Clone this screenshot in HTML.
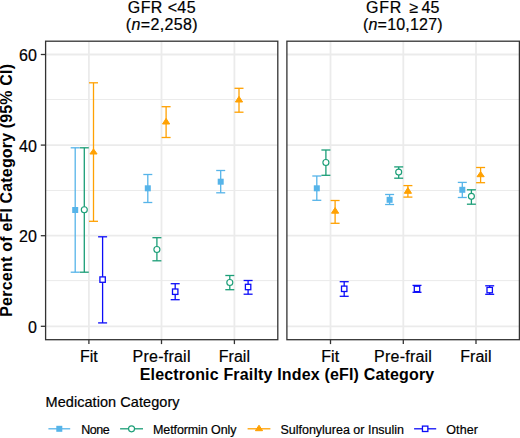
<!DOCTYPE html><html><head><meta charset="utf-8"><style>html,body{margin:0;padding:0;background:#fff;width:520px;height:438px;overflow:hidden;position:relative}text{font-family:"Liberation Sans",sans-serif}</style></head><body><svg width="520" height="438" viewBox="0 0 520 438" style="position:absolute;left:0;top:0">
<rect width="520" height="438" fill="#fff"/>
<line x1="45.6" x2="277.8" y1="99.5" y2="99.5" stroke="#EBEBEB" stroke-width="1"/>
<line x1="45.6" x2="277.8" y1="190.5" y2="190.5" stroke="#EBEBEB" stroke-width="1"/>
<line x1="45.6" x2="277.8" y1="280.6" y2="280.6" stroke="#EBEBEB" stroke-width="1"/>
<line x1="45.6" x2="277.8" y1="326.30" y2="326.30" stroke="#EBEBEB" stroke-width="1.8"/>
<line x1="45.6" x2="277.8" y1="235.70" y2="235.70" stroke="#EBEBEB" stroke-width="1.8"/>
<line x1="45.6" x2="277.8" y1="145.10" y2="145.10" stroke="#EBEBEB" stroke-width="1.8"/>
<line x1="45.6" x2="277.8" y1="54.50" y2="54.50" stroke="#EBEBEB" stroke-width="1.8"/>
<line x1="88.9" x2="88.9" y1="41.2" y2="339.7" stroke="#EBEBEB" stroke-width="1.8"/>
<line x1="161.5" x2="161.5" y1="41.2" y2="339.7" stroke="#EBEBEB" stroke-width="1.8"/>
<line x1="234.4" x2="234.4" y1="41.2" y2="339.7" stroke="#EBEBEB" stroke-width="1.8"/>
<line x1="75.20" y1="147.8" x2="75.20" y2="272.2" stroke="#56B4E9" stroke-width="1.3"/><line x1="70.70" y1="147.8" x2="79.70" y2="147.8" stroke="#56B4E9" stroke-width="1.3"/><line x1="70.70" y1="272.2" x2="79.70" y2="272.2" stroke="#56B4E9" stroke-width="1.3"/>
<rect x="72.20" y="207.00" width="6" height="6" fill="#56B4E9"/>
<line x1="84.30" y1="147.8" x2="84.30" y2="272.2" stroke="#1B9E77" stroke-width="1.3"/><line x1="79.80" y1="147.8" x2="88.80" y2="147.8" stroke="#1B9E77" stroke-width="1.3"/><line x1="79.80" y1="272.2" x2="88.80" y2="272.2" stroke="#1B9E77" stroke-width="1.3"/>
<circle cx="84.30" cy="209.7" r="3.0" fill="#fff" stroke="#1B9E77" stroke-width="1.15"/>
<line x1="93.50" y1="82.8" x2="93.50" y2="221.3" stroke="#FFA102" stroke-width="1.3"/><line x1="89.00" y1="82.8" x2="98.00" y2="82.8" stroke="#FFA102" stroke-width="1.3"/><line x1="89.00" y1="221.3" x2="98.00" y2="221.3" stroke="#FFA102" stroke-width="1.3"/>
<polygon points="93.50,148.90 97.10,154.00 89.90,154.00" fill="#FFA102" stroke="#FFA102" stroke-width="1.0" stroke-linejoin="round"/>
<line x1="102.60" y1="236.8" x2="102.60" y2="322.9" stroke="#0C0CF8" stroke-width="1.3"/><line x1="98.10" y1="236.8" x2="107.10" y2="236.8" stroke="#0C0CF8" stroke-width="1.3"/><line x1="98.10" y1="322.9" x2="107.10" y2="322.9" stroke="#0C0CF8" stroke-width="1.3"/>
<rect x="99.90" y="276.90" width="5.4" height="5.4" fill="#fff" stroke="#0C0CF8" stroke-width="1.3"/>
<line x1="147.80" y1="174.5" x2="147.80" y2="202.5" stroke="#56B4E9" stroke-width="1.3"/><line x1="143.30" y1="174.5" x2="152.30" y2="174.5" stroke="#56B4E9" stroke-width="1.3"/><line x1="143.30" y1="202.5" x2="152.30" y2="202.5" stroke="#56B4E9" stroke-width="1.3"/>
<rect x="144.80" y="185.30" width="6" height="6" fill="#56B4E9"/>
<line x1="156.90" y1="237.7" x2="156.90" y2="260.8" stroke="#1B9E77" stroke-width="1.3"/><line x1="152.40" y1="237.7" x2="161.40" y2="237.7" stroke="#1B9E77" stroke-width="1.3"/><line x1="152.40" y1="260.8" x2="161.40" y2="260.8" stroke="#1B9E77" stroke-width="1.3"/>
<circle cx="156.90" cy="249.5" r="3.0" fill="#fff" stroke="#1B9E77" stroke-width="1.15"/>
<line x1="166.10" y1="106.7" x2="166.10" y2="137.5" stroke="#FFA102" stroke-width="1.3"/><line x1="161.60" y1="106.7" x2="170.60" y2="106.7" stroke="#FFA102" stroke-width="1.3"/><line x1="161.60" y1="137.5" x2="170.60" y2="137.5" stroke="#FFA102" stroke-width="1.3"/>
<polygon points="166.10,118.40 169.70,124.00 162.50,124.00" fill="#FFA102" stroke="#FFA102" stroke-width="1.0" stroke-linejoin="round"/>
<line x1="175.20" y1="283.7" x2="175.20" y2="299.7" stroke="#0C0CF8" stroke-width="1.3"/><line x1="170.70" y1="283.7" x2="179.70" y2="283.7" stroke="#0C0CF8" stroke-width="1.3"/><line x1="170.70" y1="299.7" x2="179.70" y2="299.7" stroke="#0C0CF8" stroke-width="1.3"/>
<rect x="172.50" y="289.00" width="5.4" height="5.4" fill="#fff" stroke="#0C0CF8" stroke-width="1.3"/>
<line x1="220.70" y1="170.5" x2="220.70" y2="192.8" stroke="#56B4E9" stroke-width="1.3"/><line x1="216.20" y1="170.5" x2="225.20" y2="170.5" stroke="#56B4E9" stroke-width="1.3"/><line x1="216.20" y1="192.8" x2="225.20" y2="192.8" stroke="#56B4E9" stroke-width="1.3"/>
<rect x="217.70" y="178.70" width="6" height="6" fill="#56B4E9"/>
<line x1="229.80" y1="275.5" x2="229.80" y2="289.7" stroke="#1B9E77" stroke-width="1.3"/><line x1="225.30" y1="275.5" x2="234.30" y2="275.5" stroke="#1B9E77" stroke-width="1.3"/><line x1="225.30" y1="289.7" x2="234.30" y2="289.7" stroke="#1B9E77" stroke-width="1.3"/>
<circle cx="229.80" cy="282.5" r="3.0" fill="#fff" stroke="#1B9E77" stroke-width="1.15"/>
<line x1="239.00" y1="88.3" x2="239.00" y2="112.2" stroke="#FFA102" stroke-width="1.3"/><line x1="234.50" y1="88.3" x2="243.50" y2="88.3" stroke="#FFA102" stroke-width="1.3"/><line x1="234.50" y1="112.2" x2="243.50" y2="112.2" stroke="#FFA102" stroke-width="1.3"/>
<polygon points="239.00,96.40 242.60,102.00 235.40,102.00" fill="#FFA102" stroke="#FFA102" stroke-width="1.0" stroke-linejoin="round"/>
<line x1="248.10" y1="280.5" x2="248.10" y2="294.2" stroke="#0C0CF8" stroke-width="1.3"/><line x1="243.60" y1="280.5" x2="252.60" y2="280.5" stroke="#0C0CF8" stroke-width="1.3"/><line x1="243.60" y1="294.2" x2="252.60" y2="294.2" stroke="#0C0CF8" stroke-width="1.3"/>
<rect x="245.40" y="284.30" width="5.4" height="5.4" fill="#fff" stroke="#0C0CF8" stroke-width="1.3"/>
<rect x="45.6" y="41.2" width="232.20" height="298.50" fill="none" stroke="#333" stroke-width="1.3"/>
<line x1="88.9" x2="88.9" y1="339.7" y2="344.09999999999997" stroke="#333" stroke-width="1.3"/>
<line x1="161.5" x2="161.5" y1="339.7" y2="344.09999999999997" stroke="#333" stroke-width="1.3"/>
<line x1="234.4" x2="234.4" y1="339.7" y2="344.09999999999997" stroke="#333" stroke-width="1.3"/>
<line x1="286.9" x2="519.4" y1="99.5" y2="99.5" stroke="#EBEBEB" stroke-width="1"/>
<line x1="286.9" x2="519.4" y1="190.5" y2="190.5" stroke="#EBEBEB" stroke-width="1"/>
<line x1="286.9" x2="519.4" y1="280.6" y2="280.6" stroke="#EBEBEB" stroke-width="1"/>
<line x1="286.9" x2="519.4" y1="326.30" y2="326.30" stroke="#EBEBEB" stroke-width="1.8"/>
<line x1="286.9" x2="519.4" y1="235.70" y2="235.70" stroke="#EBEBEB" stroke-width="1.8"/>
<line x1="286.9" x2="519.4" y1="145.10" y2="145.10" stroke="#EBEBEB" stroke-width="1.8"/>
<line x1="286.9" x2="519.4" y1="54.50" y2="54.50" stroke="#EBEBEB" stroke-width="1.8"/>
<line x1="330.5" x2="330.5" y1="41.2" y2="339.7" stroke="#EBEBEB" stroke-width="1.8"/>
<line x1="403.3" x2="403.3" y1="41.2" y2="339.7" stroke="#EBEBEB" stroke-width="1.8"/>
<line x1="476.0" x2="476.0" y1="41.2" y2="339.7" stroke="#EBEBEB" stroke-width="1.8"/>
<line x1="316.80" y1="176" x2="316.80" y2="200.3" stroke="#56B4E9" stroke-width="1.3"/><line x1="312.30" y1="176" x2="321.30" y2="176" stroke="#56B4E9" stroke-width="1.3"/><line x1="312.30" y1="200.3" x2="321.30" y2="200.3" stroke="#56B4E9" stroke-width="1.3"/>
<rect x="313.80" y="185.30" width="6" height="6" fill="#56B4E9"/>
<line x1="325.90" y1="150" x2="325.90" y2="175.3" stroke="#1B9E77" stroke-width="1.3"/><line x1="321.40" y1="150" x2="330.40" y2="150" stroke="#1B9E77" stroke-width="1.3"/><line x1="321.40" y1="175.3" x2="330.40" y2="175.3" stroke="#1B9E77" stroke-width="1.3"/>
<circle cx="325.90" cy="162.5" r="3.0" fill="#fff" stroke="#1B9E77" stroke-width="1.15"/>
<line x1="335.10" y1="200.5" x2="335.10" y2="223.3" stroke="#FFA102" stroke-width="1.3"/><line x1="330.60" y1="200.5" x2="339.60" y2="200.5" stroke="#FFA102" stroke-width="1.3"/><line x1="330.60" y1="223.3" x2="339.60" y2="223.3" stroke="#FFA102" stroke-width="1.3"/>
<polygon points="335.10,207.60 338.70,213.20 331.50,213.20" fill="#FFA102" stroke="#FFA102" stroke-width="1.0" stroke-linejoin="round"/>
<line x1="344.20" y1="281.7" x2="344.20" y2="296.3" stroke="#0C0CF8" stroke-width="1.3"/><line x1="339.70" y1="281.7" x2="348.70" y2="281.7" stroke="#0C0CF8" stroke-width="1.3"/><line x1="339.70" y1="296.3" x2="348.70" y2="296.3" stroke="#0C0CF8" stroke-width="1.3"/>
<rect x="341.50" y="286.10" width="5.4" height="5.4" fill="#fff" stroke="#0C0CF8" stroke-width="1.3"/>
<line x1="389.60" y1="194.5" x2="389.60" y2="204.5" stroke="#56B4E9" stroke-width="1.3"/><line x1="385.10" y1="194.5" x2="394.10" y2="194.5" stroke="#56B4E9" stroke-width="1.3"/><line x1="385.10" y1="204.5" x2="394.10" y2="204.5" stroke="#56B4E9" stroke-width="1.3"/>
<rect x="386.60" y="196.80" width="6" height="6" fill="#56B4E9"/>
<line x1="398.70" y1="166.9" x2="398.70" y2="178.2" stroke="#1B9E77" stroke-width="1.3"/><line x1="394.20" y1="166.9" x2="403.20" y2="166.9" stroke="#1B9E77" stroke-width="1.3"/><line x1="394.20" y1="178.2" x2="403.20" y2="178.2" stroke="#1B9E77" stroke-width="1.3"/>
<circle cx="398.70" cy="172.1" r="3.0" fill="#fff" stroke="#1B9E77" stroke-width="1.15"/>
<line x1="407.90" y1="185.6" x2="407.90" y2="197.1" stroke="#FFA102" stroke-width="1.3"/><line x1="403.40" y1="185.6" x2="412.40" y2="185.6" stroke="#FFA102" stroke-width="1.3"/><line x1="403.40" y1="197.1" x2="412.40" y2="197.1" stroke="#FFA102" stroke-width="1.3"/>
<polygon points="407.90,187.50 411.50,193.30 404.30,193.30" fill="#FFA102" stroke="#FFA102" stroke-width="1.0" stroke-linejoin="round"/>
<line x1="417.00" y1="285.4" x2="417.00" y2="292.3" stroke="#0C0CF8" stroke-width="1.3"/><line x1="412.50" y1="285.4" x2="421.50" y2="285.4" stroke="#0C0CF8" stroke-width="1.3"/><line x1="412.50" y1="292.3" x2="421.50" y2="292.3" stroke="#0C0CF8" stroke-width="1.3"/>
<rect x="414.30" y="286.20" width="5.4" height="5.4" fill="#fff" stroke="#0C0CF8" stroke-width="1.3"/>
<line x1="462.30" y1="182.4" x2="462.30" y2="197.5" stroke="#56B4E9" stroke-width="1.3"/><line x1="457.80" y1="182.4" x2="466.80" y2="182.4" stroke="#56B4E9" stroke-width="1.3"/><line x1="457.80" y1="197.5" x2="466.80" y2="197.5" stroke="#56B4E9" stroke-width="1.3"/>
<rect x="459.30" y="186.80" width="6" height="6" fill="#56B4E9"/>
<line x1="471.40" y1="189.8" x2="471.40" y2="204.2" stroke="#1B9E77" stroke-width="1.3"/><line x1="466.90" y1="189.8" x2="475.90" y2="189.8" stroke="#1B9E77" stroke-width="1.3"/><line x1="466.90" y1="204.2" x2="475.90" y2="204.2" stroke="#1B9E77" stroke-width="1.3"/>
<circle cx="471.40" cy="196.3" r="3.0" fill="#fff" stroke="#1B9E77" stroke-width="1.15"/>
<line x1="480.60" y1="167.5" x2="480.60" y2="182.7" stroke="#FFA102" stroke-width="1.3"/><line x1="476.10" y1="167.5" x2="485.10" y2="167.5" stroke="#FFA102" stroke-width="1.3"/><line x1="476.10" y1="182.7" x2="485.10" y2="182.7" stroke="#FFA102" stroke-width="1.3"/>
<polygon points="480.60,171.60 484.20,176.70 477.00,176.70" fill="#FFA102" stroke="#FFA102" stroke-width="1.0" stroke-linejoin="round"/>
<line x1="489.70" y1="285.8" x2="489.70" y2="294.3" stroke="#0C0CF8" stroke-width="1.3"/><line x1="485.20" y1="285.8" x2="494.20" y2="285.8" stroke="#0C0CF8" stroke-width="1.3"/><line x1="485.20" y1="294.3" x2="494.20" y2="294.3" stroke="#0C0CF8" stroke-width="1.3"/>
<rect x="487.00" y="287.40" width="5.4" height="5.4" fill="#fff" stroke="#0C0CF8" stroke-width="1.3"/>
<rect x="286.9" y="41.2" width="232.50" height="298.50" fill="none" stroke="#333" stroke-width="1.3"/>
<line x1="330.5" x2="330.5" y1="339.7" y2="344.09999999999997" stroke="#333" stroke-width="1.3"/>
<line x1="403.3" x2="403.3" y1="339.7" y2="344.09999999999997" stroke="#333" stroke-width="1.3"/>
<line x1="476.0" x2="476.0" y1="339.7" y2="344.09999999999997" stroke="#333" stroke-width="1.3"/>
<line x1="40.8" x2="45.6" y1="326.30" y2="326.30" stroke="#333" stroke-width="1.3"/>
<line x1="40.8" x2="45.6" y1="235.70" y2="235.70" stroke="#333" stroke-width="1.3"/>
<line x1="40.8" x2="45.6" y1="145.10" y2="145.10" stroke="#333" stroke-width="1.3"/>
<line x1="40.8" x2="45.6" y1="54.50" y2="54.50" stroke="#333" stroke-width="1.3"/>
<text id="s1a" font-size="16" text-anchor="middle" fill="#000" stroke="#000" stroke-width="0.2" textLength="67.7" lengthAdjust="spacing" x="161.7" y="12.5">GFR &lt;45</text>
<text id="s1b" font-size="16" text-anchor="middle" fill="#000" stroke="#000" stroke-width="0.2" textLength="71.8" lengthAdjust="spacing" x="161.7" y="29.8">(<tspan font-style="italic">n</tspan>=2,258)</text>
<text id="s2a" font-size="16" text-anchor="start" fill="#000" stroke="#000" stroke-width="0.2" textLength="35.4" lengthAdjust="spacing" x="366.0" y="12.5">GFR</text>
<text id="s2c" font-size="16" text-anchor="start" fill="#000" stroke="#000" stroke-width="0.2" x="409.5" y="12.5">≥</text>
<text id="s2d" font-size="16" text-anchor="start" fill="#000" stroke="#000" stroke-width="0.2" x="421.5" y="12.5">45</text>
<text id="s2b" font-size="16" text-anchor="middle" fill="#000" stroke="#000" stroke-width="0.2" textLength="79.6" lengthAdjust="spacing" x="402.8" y="29.8">(<tspan font-style="italic">n</tspan>=10,127)</text>
<text id="y0" font-size="16" text-anchor="end" fill="#000" stroke="#000" stroke-width="0.2" x="36.8" y="332.7">0</text>
<text id="y20" font-size="16" text-anchor="end" fill="#000" stroke="#000" stroke-width="0.2" x="36.8" y="242.1">20</text>
<text id="y40" font-size="16" text-anchor="end" fill="#000" stroke="#000" stroke-width="0.2" x="36.8" y="151.5">40</text>
<text id="y60" font-size="16" text-anchor="end" fill="#000" stroke="#000" stroke-width="0.2" x="36.8" y="60.9">60</text>
<text id="xl1" font-size="16" text-anchor="middle" fill="#000" stroke="#000" stroke-width="0.2" x="88.9" y="361.8">Fit</text>
<text id="xl2" font-size="16" text-anchor="middle" fill="#000" stroke="#000" stroke-width="0.2" textLength="57.9" lengthAdjust="spacing" x="161.5" y="361.8">Pre-frail</text>
<text id="xl3" font-size="16" text-anchor="middle" fill="#000" stroke="#000" stroke-width="0.2" x="234.4" y="361.8">Frail</text>
<text id="xr1" font-size="16" text-anchor="middle" fill="#000" stroke="#000" stroke-width="0.2" x="330.2" y="361.8">Fit</text>
<text id="xr2" font-size="16" text-anchor="middle" fill="#000" stroke="#000" stroke-width="0.2" textLength="57.8" lengthAdjust="spacing" x="403.0" y="361.8">Pre-frail</text>
<text id="xr3" font-size="16" text-anchor="middle" fill="#000" stroke="#000" stroke-width="0.2" x="475.9" y="361.8">Frail</text>
<text id="xt" font-size="16" text-anchor="middle" fill="#000" font-weight="bold" textLength="294.5" lengthAdjust="spacing" x="287.0" y="379.9">Electronic Frailty Index (eFI) Category</text>
<text id="lt" font-size="14.5" text-anchor="start" fill="#000" stroke="#000" stroke-width="0.2" textLength="134.1" lengthAdjust="spacing" x="45.5" y="406.8">Medication Category</text>
<text id="l1" font-size="12.5" text-anchor="start" fill="#000" stroke="#000" stroke-width="0.2" textLength="28.6" lengthAdjust="spacing" x="81.2" y="433.8">None</text>
<text id="l2" font-size="12.5" text-anchor="start" fill="#000" stroke="#000" stroke-width="0.2" textLength="83.4" lengthAdjust="spacing" x="153.0" y="433.8">Metformin Only</text>
<text id="l3" font-size="12.5" text-anchor="start" fill="#000" stroke="#000" stroke-width="0.2" x="280.4" y="433.8">Sulfonylurea or Insulin</text>
<text id="l4" font-size="12.5" text-anchor="start" fill="#000" stroke="#000" stroke-width="0.2" textLength="31.8" lengthAdjust="spacing" x="446.2" y="433.8">Other</text>
<text id="yt1" font-size="16" text-anchor="start" fill="#000" font-weight="bold" textLength="108.8" lengthAdjust="spacing" transform="translate(12.3,316.8) rotate(-90)" x="0" y="0">Percent of eFI</text>
<text id="yt2" font-size="16" text-anchor="start" fill="#000" font-weight="bold" textLength="139.4" lengthAdjust="spacing" transform="translate(12.3,203.4) rotate(-90)" x="0" y="0">Category (95% CI)</text>
<line x1="48.4" x2="70.2" y1="428.8" y2="428.8" stroke="#56B4E9" stroke-width="1.3"/>
<rect x="56.30" y="425.80" width="6" height="6" fill="#56B4E9"/>
<line x1="120.1" x2="143" y1="428.8" y2="428.8" stroke="#1B9E77" stroke-width="1.3"/>
<circle cx="131.55" cy="428.8" r="3.0" fill="#fff" stroke="#1B9E77" stroke-width="1.15"/>
<line x1="247.6" x2="270.4" y1="428.8" y2="428.8" stroke="#FFA102" stroke-width="1.3"/>
<polygon points="259.00,425.20 262.60,430.70 255.40,430.70" fill="#FFA102" stroke="#FFA102" stroke-width="1.0" stroke-linejoin="round"/>
<line x1="414.1" x2="436.2" y1="428.8" y2="428.8" stroke="#0C0CF8" stroke-width="1.3"/>
<rect x="422.45" y="426.10" width="5.4" height="5.4" fill="#fff" stroke="#0C0CF8" stroke-width="1.3"/>
</svg></body></html>
